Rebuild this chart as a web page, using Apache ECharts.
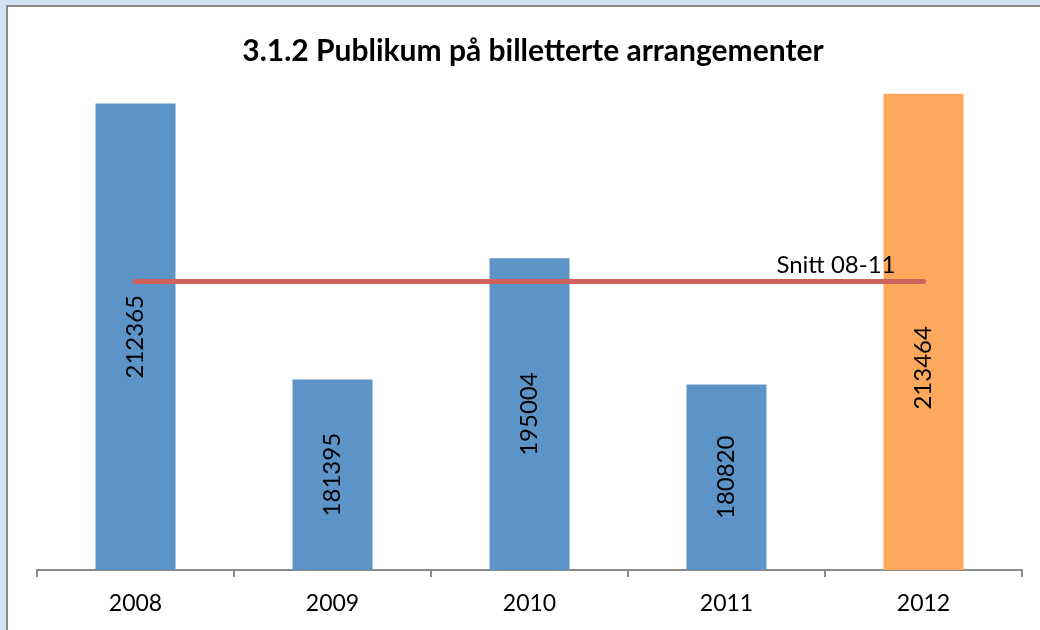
<!DOCTYPE html>
<html>
<head>
<meta charset="utf-8">
<script src="https://cdn.jsdelivr.net/npm/echarts@6/dist/echarts.min.js"></script>
<style>
  html, body { margin: 0; padding: 0; background: #d4e3f3; }
  #chart { width: 1040px; height: 630px; }
</style>
</head>
<body>
<div id="chart"></div>
<script>
const categories = ['2008', '2009', '2010', '2011', '2012'];
const publikum = [212365, 181395, 195004, 180820, 213464];
const barColors = ['#5c94c8', '#5c94c8', '#5c94c8', '#5c94c8', '#fda85c'];
const snitt = [192396, 192396, 192396, 192396, 192396];
const snittLabel = 'Snitt 08-11';
const titleText = '3.1.2 Publikum på billetterte arrangementer';

const FONT = 'Lato';
const chart = echarts.init(document.getElementById('chart'), null, { renderer: 'canvas' });

chart.setOption({
  backgroundColor: 'transparent',
  animation: false,
  title: {
    text: titleText,
    left: 528,
    top: 31,
    textAlign: 'center',
    textStyle: { fontFamily: FONT, fontWeight: 'bold', fontSize: 30, color: '#000' }
  },
  graphic: [{
    type: 'rect',
    z: -10,
    shape: { x: 7, y: 6, width: 1100, height: 700 },
    style: { fill: '#ffffff', stroke: '#8a8a8a', lineWidth: 2 }
  }],
  grid: { left: 37, right: 18, top: 80, bottom: 60 },
  xAxis: {
    type: 'category',
    data: categories,
    axisLine: { lineStyle: { color: '#8a8a8a', width: 2 } },
    axisTick: { show: true, length: 7, lineStyle: { color: '#8a8a8a', width: 2 } },
    axisLabel: { color: '#000', fontFamily: FONT, fontSize: 23, margin: 22 }
  },
  yAxis: {
    type: 'value',
    min: 160000,
    max: 215000,
    show: false,
    splitLine: { show: false }
  },
  series: [
    {
      type: 'bar',
      barWidth: 80,
      data: publikum.map((v, i) => ({
        value: v,
        itemStyle: { color: barColors[i] },
        label: i === 4 ? { offset: [-36, 0] } : undefined
      })),
      label: {
        show: true,
        position: 'inside',
        rotate: 90,
        color: '#000',
        fontFamily: FONT,
        fontSize: 24
      },
      z: 2
    },
    {
      type: 'line',
      data: snitt,
      showSymbol: false,
      symbol: 'none',
      lineStyle: { color: '#d0625e', width: 5, cap: 'round' },
      endLabel: {
        show: true,
        formatter: snittLabel,
        align: 'right',
        offset: [-36, -16],
        color: '#000',
        fontFamily: FONT,
        fontSize: 24
      },
      z: 3
    }
  ]
});
</script>
</body>
</html>
